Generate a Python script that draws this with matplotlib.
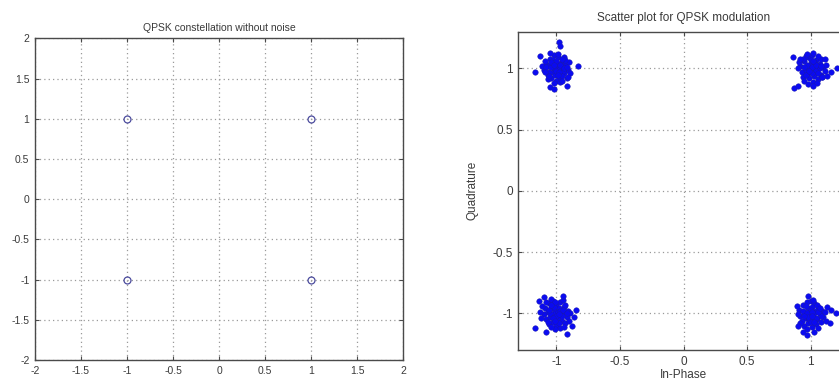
import matplotlib.pyplot as plt
import numpy as np

# ideal QPSK symbols (left panel)
ideal_i = [-1, -1, 1, 1]
ideal_q = [1, -1, 1, -1]

# received symbols, one cloud per symbol
cloud_tl = [(-1.08, 1.04), (-1.05, 1.08), (-1.02, 1.11), (-0.99, 1.09), (-0.96, 1.06), (-0.93, 1.03),
            (-0.91, 0.99), (-1.10, 0.99), (-1.07, 0.95), (-1.03, 0.97), (-1.00, 1.02), (-0.97, 1.00),
            (-0.94, 0.96), (-0.90, 1.05), (-1.09, 1.06), (-1.06, 1.02), (-1.01, 1.05), (-0.98, 0.93),
            (-0.95, 0.98), (-0.92, 0.92), (-1.04, 0.92), (-1.00, 0.90), (-0.96, 0.94), (-1.07, 0.91),
            (-1.02, 1.00), (-0.98, 1.04), (-0.94, 1.09), (-1.05, 1.13), (-1.01, 0.95), (-0.97, 0.89),
            (-1.11, 1.02), (-0.89, 0.96), (-1.03, 1.07), (-0.99, 1.12), (-0.95, 1.01), (-1.06, 0.97),
            (-1.00, 0.98), (-0.93, 1.07), (-1.08, 1.01), (-0.96, 0.90), (-1.02, 0.88), (-0.98, 0.97),
            (-1.04, 1.01), (-0.91, 0.93), (-1.00, 1.06), (-0.97, 1.03), (-1.04, 1.05), (-1.06, 0.94),
            (-0.99, 0.95), (-0.94, 1.00), (-1.02, 1.03), (-0.96, 1.08), (-1.09, 0.97), (-0.92, 1.01),
            (-0.98, 1.22), (-0.97, 1.18), (-1.17, 0.97), (-0.83, 1.02), (-1.05, 0.85), (-1.02, 0.83),
            (-0.92, 0.86), (-1.13, 1.10)]
cloud_tr = [(0.92, 1.02), (0.95, 1.06), (0.98, 1.09), (1.01, 1.11), (1.04, 1.07), (1.07, 1.04),
            (1.10, 1.01), (0.93, 0.97), (0.96, 0.99), (0.99, 1.03), (1.02, 1.00), (1.05, 0.97),
            (1.08, 0.95), (1.11, 0.98), (0.94, 0.93), (0.97, 0.95), (1.00, 0.97), (1.03, 0.94),
            (1.06, 0.91), (1.09, 0.93), (0.95, 0.90), (0.99, 0.92), (1.02, 0.89), (1.05, 1.02),
            (1.08, 1.08), (0.91, 1.05), (0.96, 1.10), (1.00, 1.04), (1.03, 1.05), (0.98, 1.00),
            (1.01, 0.96), (1.04, 0.99), (1.07, 1.00), (0.97, 1.03), (1.00, 1.07), (1.12, 1.03),
            (0.90, 1.00), (1.05, 0.88), (0.98, 0.87), (1.13, 0.94), (1.02, 1.13), (0.94, 1.08),
            (1.06, 1.10), (1.09, 0.93), (0.96, 0.95), (1.01, 1.01), (1.04, 1.03), (0.99, 0.98),
            (1.06, 0.96), (0.95, 1.01), (1.02, 1.06), (1.08, 1.02),
            (0.86, 1.09), (0.92, 1.08), (1.11, 1.08), (1.21, 1.00), (0.87, 0.84), (0.90, 0.86),
            (1.02, 0.86), (1.16, 0.97), (0.97, 1.12)]
cloud_bl = [(-1.09, -0.96), (-1.06, -0.92), (-1.03, -0.90), (-1.00, -0.93), (-0.97, -0.91), (-0.94, -0.95),
            (-0.91, -0.98), (-1.10, -1.01), (-1.07, -0.99), (-1.04, -0.96), (-1.01, -0.98), (-0.98, -0.96),
            (-0.95, -1.00), (-0.92, -1.03), (-1.08, -1.05), (-1.05, -1.03), (-1.02, -1.01), (-0.99, -1.04),
            (-0.96, -1.06), (-0.93, -1.08), (-1.06, -1.09), (-1.03, -1.07), (-1.00, -1.10), (-0.97, -1.12),
            (-1.11, -0.94), (-1.04, -0.88), (-0.95, -0.89), (-0.90, -1.06), (-1.12, -1.04), (-1.01, -1.13),
            (-0.99, -0.99), (-1.02, -0.95), (-0.96, -1.02), (-1.05, -1.00), (-0.93, -0.93), (-1.08, -0.91),
            (-0.98, -1.08), (-1.04, -1.11), (-0.89, -1.00), (-1.13, -0.99), (-1.00, -1.02), (-0.94, -1.11),
            (-1.07, -1.07), (-1.01, -0.91), (-0.97, -0.98), (-1.03, -1.04), (-1.06, -0.97), (-0.98, -1.01),
            (-1.01, -1.06), (-0.95, -0.97), (-1.04, -0.93), (-0.92, -1.00),
            (-1.17, -1.12), (-0.85, -0.97), (-0.86, -1.03), (-0.92, -1.17), (-1.10, -0.87), (-0.95, -0.86),
            (-1.14, -0.90), (-1.08, -1.15), (-0.88, -1.10)]
cloud_br = [(0.91, -0.97), (0.94, -0.93), (0.97, -0.91), (1.00, -0.90), (1.03, -0.92), (1.06, -0.95),
            (1.09, -0.98), (0.92, -1.02), (0.95, -0.99), (0.98, -0.96), (1.01, -0.95), (1.04, -0.98),
            (1.07, -1.01), (1.10, -1.03), (0.93, -1.06), (0.96, -1.04), (0.99, -1.01), (1.02, -1.03),
            (1.05, -1.05), (1.08, -1.07), (0.95, -1.10), (0.98, -1.08), (1.01, -1.11), (1.04, -1.09),
            (0.90, -1.01), (1.11, -0.99), (0.97, -1.13), (1.00, -0.97), (1.03, -1.00), (0.96, -0.94),
            (1.06, -1.12), (0.99, -1.05), (1.02, -0.89), (1.13, -0.95), (0.94, -0.98), (1.05, -0.93),
            (0.92, -1.08), (1.08, -1.02), (1.00, -1.07), (0.97, -1.00), (1.12, -1.06), (1.01, -0.99),
            (0.89, -0.94), (1.04, -1.04), (1.06, -0.99), (0.98, -1.03), (1.03, -1.07), (0.95, -1.02),
            (1.01, -1.02), (1.07, -0.96),
            (0.98, -0.86), (1.20, -1.00), (0.97, -1.18), (0.90, -1.10), (1.15, -1.08), (1.16, -0.97),
            (1.03, -1.15), (0.94, -1.15)]

left_ticks = [-2, -1.5, -1, -0.5, 0, 0.5, 1, 1.5, 2]
left_labels = ['-2', '-1.5', '-1', '-0.5', '0', '0.5', '1', '1.5', '2']
right_ticks = [-1, -0.5, 0, 0.5, 1]
right_labels = ['-1', '-0.5', '0', '0.5', '1']

plt.rcParams['font.family'] = ['Liberation Sans', 'DejaVu Sans']
text_col = '#3a3a3a'
frame_col = '#4a4a4a'
grid_col = '#9a9a9a'


def style_axes(ax, ticks, labels, size):
    ax.set_xticks(ticks)
    ax.set_yticks(ticks)
    ax.set_xticklabels(labels)
    ax.set_yticklabels(labels)
    ax.tick_params(direction='in', length=3, width=0.8, color=frame_col,
                   labelcolor=text_col, labelsize=size, pad=4,
                   top=True, right=True)
    for sp in ax.spines.values():
        sp.set_color(frame_col)
        sp.set_linewidth(1.0)
    ax.grid(True, linestyle=(0, (1, 2.5)), color=grid_col, linewidth=0.9)
    ax.set_axisbelow(True)


fig = plt.figure(figsize=(8.39, 3.83), dpi=100)

# left: ideal constellation
ax1 = fig.add_axes([0.0417, 0.060, 0.439, 0.840])
ax1.plot(ideal_i, ideal_q, 'o', markersize=5, markerfacecolor='none',
         markeredgecolor='#4b4b9e', markeredgewidth=0.9, linestyle='none')
ax1.set_xlim(-2, 2)
ax1.set_ylim(-2, 2)
style_axes(ax1, left_ticks, left_labels, 7.5)
ax1.set_title('QPSK constellation without noise', fontsize=7.5, color=text_col, pad=5)

# right: noisy scatter, the right edge runs past the figure
ax2 = fig.add_axes([0.6178, 0.0862, 0.3938, 0.831])
for cloud in [cloud_tl, cloud_tr, cloud_bl, cloud_br]:
    pts = np.array(cloud).T
    ax2.plot(pts[0], pts[1], '.', markersize=8, color='#0b0bf0',
             markeredgecolor='#1a1aa8', markeredgewidth=0.3, linestyle='none')
ax2.set_xlim(-1.3, 1.3)
ax2.set_ylim(-1.3, 1.3)
style_axes(ax2, right_ticks, right_labels, 8.5)
ax2.set_title('Scatter plot for QPSK modulation', fontsize=8.5, color=text_col, pad=8)
ax2.set_xlabel('In-Phase', fontsize=8.5, color=text_col, labelpad=1)
ax2.set_ylabel('Quadrature', fontsize=8.5, color=text_col, labelpad=10)

fig.savefig('out.png', dpi=100)
